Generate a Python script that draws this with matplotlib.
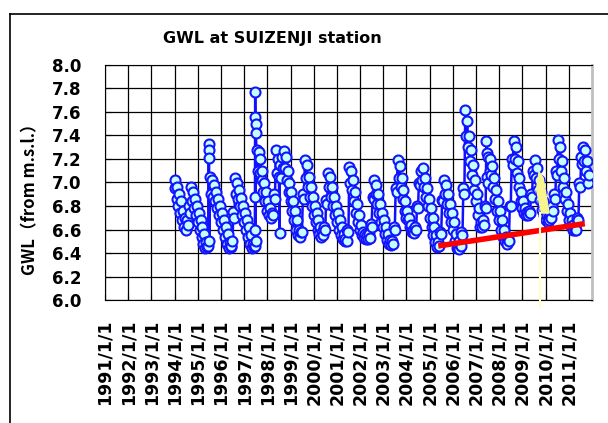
import numpy as np
import pandas as pd
import matplotlib
matplotlib.use("Agg")
import matplotlib.pyplot as plt
from matplotlib.lines import Line2D

# mid-month groundwater level readings (m, from m.s.l.), one list per year
gwl_1994 = [7.02, 6.96, 6.90, 6.84, 6.76, 6.70, 6.68, 6.80, 6.96, 6.92, 6.86, 6.80]
gwl_1995 = [6.74, 6.68, 6.62, 6.56, 6.49, 6.46, 7.05, 7.02, 6.98, 6.92, 6.86, 6.80]
gwl_1996 = [6.74, 6.68, 6.62, 6.56, 6.49, 6.46, 6.75, 7.04, 7.00, 6.94, 6.87, 6.80]
gwl_1997 = [6.74, 6.68, 6.62, 6.55, 6.48, 6.46, 7.28, 7.26, 7.20, 7.10, 7.00, 6.92]
gwl_1998 = [6.84, 6.78, 6.74, 6.90, 7.28, 7.20, 7.15, 7.22, 7.27, 7.22, 7.10, 7.00]
gwl_1999 = [6.92, 6.84, 6.76, 6.68, 6.60, 6.58, 6.90, 7.19, 7.15, 7.05, 6.96, 6.88]
gwl_2000 = [6.80, 6.74, 6.68, 6.62, 6.58, 6.62, 6.85, 7.08, 7.05, 6.96, 6.88, 6.80]
gwl_2001 = [6.74, 6.68, 6.62, 6.56, 6.52, 6.60, 7.13, 7.10, 7.02, 6.92, 6.82, 6.72]
gwl_2002 = [6.64, 6.58, 6.56, 6.55, 6.56, 6.65, 6.88, 7.02, 6.98, 6.90, 6.82, 6.74]
gwl_2003 = [6.68, 6.62, 6.56, 6.51, 6.50, 6.62, 6.95, 7.19, 7.14, 7.04, 6.94, 6.84]
gwl_2004 = [6.76, 6.70, 6.64, 6.60, 6.62, 6.80, 7.00, 7.10, 7.12, 7.04, 6.95, 6.86]
gwl_2005 = [6.78, 6.70, 6.62, 6.55, 6.49, 6.58, 6.85, 7.02, 6.98, 6.90, 6.82, 6.74]
gwl_2006 = [6.66, 6.56, 6.46, 6.50, 6.58, 6.95, 7.62, 7.52, 7.40, 7.28, 7.15, 7.02]
gwl_2007 = [6.90, 6.78, 6.66, 6.68, 6.80, 7.05, 7.22, 7.20, 7.14, 7.04, 6.94, 6.84]
gwl_2008 = [6.76, 6.68, 6.60, 6.54, 6.52, 6.80, 7.20, 7.35, 7.30, 7.18, 7.04, 6.92]
gwl_2009 = [6.84, 6.78, 6.75, 6.76, 6.90, 7.10, 7.19, 7.12, 7.02, 6.92, 6.84, 6.77]
gwl_2010 = [6.72, 6.71, 6.74, 6.80, 6.90, 7.10, 7.36, 7.30, 7.18, 7.04, 6.92, 6.82]
gwl_2011 = [6.74, 6.68, 6.64, 6.62, 6.70, 7.00, 7.22, 7.30, 7.28, 7.18, 7.06]

# readings at the start of each month (lower edge of the daily band)
low_1994 = [6.95, 6.86, 6.80, 6.74, 6.68, 6.62, 6.60, 6.64, 6.74, 6.84, 6.78, 6.72]
low_1995 = [6.66, 6.60, 6.54, 6.48, 6.44, 6.45, 6.50, 6.90, 6.88, 6.84, 6.78, 6.72]
low_1996 = [6.66, 6.60, 6.54, 6.48, 6.44, 6.45, 6.50, 6.70, 6.90, 6.86, 6.80, 6.72]
low_1997 = [6.66, 6.60, 6.54, 6.48, 6.44, 6.45, 6.50, 7.10, 7.08, 7.02, 6.92, 6.84]
low_1998 = [6.76, 6.72, 6.70, 6.72, 6.86, 7.08, 7.05, 7.04, 7.12, 7.12, 7.02, 6.92]
low_1999 = [6.84, 6.76, 6.68, 6.60, 6.55, 6.54, 6.58, 6.86, 7.04, 6.96, 6.88, 6.80]
low_2000 = [6.72, 6.66, 6.60, 6.56, 6.54, 6.55, 6.60, 6.82, 6.96, 6.88, 6.80, 6.72]
low_2001 = [6.66, 6.60, 6.55, 6.52, 6.50, 6.50, 6.58, 7.00, 6.94, 6.84, 6.74, 6.66]
low_2002 = [6.60, 6.55, 6.53, 6.52, 6.52, 6.53, 6.62, 6.86, 6.90, 6.82, 6.74, 6.66]
low_2003 = [6.62, 6.56, 6.51, 6.48, 6.47, 6.48, 6.60, 6.92, 7.04, 6.96, 6.86, 6.76]
low_2004 = [6.70, 6.68, 6.62, 6.58, 6.57, 6.60, 6.78, 6.98, 7.02, 6.96, 6.88, 6.80]
low_2005 = [6.70, 6.62, 6.55, 6.49, 6.45, 6.46, 6.56, 6.84, 6.90, 6.82, 6.74, 6.66]
low_2006 = [6.60, 6.50, 6.44, 6.43, 6.46, 6.55, 6.90, 7.40, 7.30, 7.18, 7.06, 6.94]
low_2007 = [6.84, 6.72, 6.62, 6.62, 6.64, 6.78, 7.00, 7.10, 7.06, 6.96, 6.86, 6.76]
low_2008 = [6.68, 6.60, 6.54, 6.50, 6.48, 6.50, 6.80, 7.15, 7.20, 7.08, 6.96, 6.84]
low_2009 = [6.78, 6.74, 6.72, 6.72, 6.74, 6.88, 7.06, 7.04, 6.94, 6.85, 6.77, 6.72]
low_2010 = [6.68, 6.66, 6.68, 6.70, 6.76, 6.86, 7.06, 7.20, 7.10, 6.96, 6.86, 6.76]
low_2011 = [6.68, 6.63, 6.60, 6.60, 6.60, 6.68, 6.96, 7.16, 7.18, 7.10, 7.00]

# short-lived peaks / dips between the regular readings
spike_dates = ["1995-06-20", "1995-06-24", "1995-06-28",
               "1997-06-18", "1997-06-20", "1997-06-23", "1997-06-26", "1997-06-29", "1997-07-02",
               "1998-07-14", "2007-06-12", "2007-06-16"]
spike_values = [7.33, 7.28, 7.21,
                6.60, 6.88, 7.77, 7.56, 7.50, 7.42,
                6.57, 7.35, 7.25]

# trend line and marker annotation
trend_dates = ["2005-05-16", "2011-09-10"]
trend_values = [6.46, 6.65]
arrow_dates = ["2009-09-19", "2009-08-10", "2009-10-28", "2010-02-25", "2009-11-22"]
arrow_values = [7.09, 6.94, 6.74, 6.74, 7.04]
event_date = "2009-10-01"
event_range = [5.94, 6.74]

year_labels = [f"{y}/1/1" for y in range(1991, 2012)]

mid = (gwl_1994 + gwl_1995 + gwl_1996 + gwl_1997 + gwl_1998 + gwl_1999
       + gwl_2000 + gwl_2001 + gwl_2002 + gwl_2003 + gwl_2004 + gwl_2005
       + gwl_2006 + gwl_2007 + gwl_2008 + gwl_2009 + gwl_2010 + gwl_2011)
low = (low_1994 + low_1995 + low_1996 + low_1997 + low_1998 + low_1999
       + low_2000 + low_2001 + low_2002 + low_2003 + low_2004 + low_2005
       + low_2006 + low_2007 + low_2008 + low_2009 + low_2010 + low_2011)
month_starts = pd.date_range("1994-01-01", periods=len(mid), freq="MS")
series = pd.concat([
    pd.Series(mid, index=month_starts + pd.Timedelta(days=14)),
    pd.Series(low, index=month_starts),
    pd.Series(spike_values, index=pd.to_datetime(spike_dates)),
]).sort_index()

fig = plt.figure(figsize=(6.08, 4.23), dpi=100)
ax = fig.add_axes([105 / 608, 1 - 300 / 423, 487 / 608, 235 / 423])

ax.plot(series.index, series.values, color="#1010ff", lw=1.8,
        marker="o", ms=7.2, mfc="#c4ffff", mec="#1414ff", mew=1.5, zorder=3)

ax.plot(pd.to_datetime(trend_dates), trend_values, color="#ff0000", lw=4,
        solid_capstyle="butt", zorder=4)

ev = pd.to_datetime(event_date)
ax.plot([ev, ev], event_range, color="#ffffc0", lw=1.5, zorder=5, clip_on=False)
ax.fill(pd.to_datetime(arrow_dates), arrow_values, color="#f8f590", zorder=5)

ax.set_xlim(pd.Timestamp("1991-01-01"), pd.Timestamp("2012-01-01"))
ax.set_ylim(6.0, 8.0)
ticks = [pd.Timestamp(f"{y}-01-01") for y in range(1991, 2012)]
ax.set_xticks(ticks)
ax.set_xticklabels(year_labels, rotation=90, fontsize=12.5, fontweight="bold")
ax.set_yticks(np.arange(6.0, 8.01, 0.2))
ax.set_yticklabels([f"{v:.1f}" for v in np.arange(6.0, 8.01, 0.2)],
                   fontsize=12, fontweight="bold")
ax.tick_params(axis="x", direction="in", length=4, pad=14)
ax.tick_params(axis="y", direction="in", length=4, pad=17)
ax.grid(True, color="black", lw=0.9)
ax.set_axisbelow(True)
for side in ["left", "bottom", "top"]:
    ax.spines[side].set_color("black")
ax.spines["right"].set_color("#c0c0c0")
ax.spines["right"].set_linewidth(2)

fig.text(272 / 608, 1 - 39 / 423, "GWL at SUIZENJI station", ha="center", va="center",
         fontsize=11.5, fontweight="bold")
fig.text(30 / 608, 1 - 195 / 423, "GWL（from m.s.l.）", ha="center", va="center",
         rotation=90, fontsize=12, fontweight="bold",
         family=["Noto Sans CJK JP", "DejaVu Sans"])

# chart-area frame (cropped on right and bottom)
fig.add_artist(Line2D([10 / 608, 10 / 608], [0, 1 - 14 / 423], transform=fig.transFigure,
                      color="black", lw=1.2))
fig.add_artist(Line2D([10 / 608, 1], [1 - 14 / 423, 1 - 14 / 423], transform=fig.transFigure,
                      color="black", lw=1.2))

fig.savefig("out.png", dpi=100)
